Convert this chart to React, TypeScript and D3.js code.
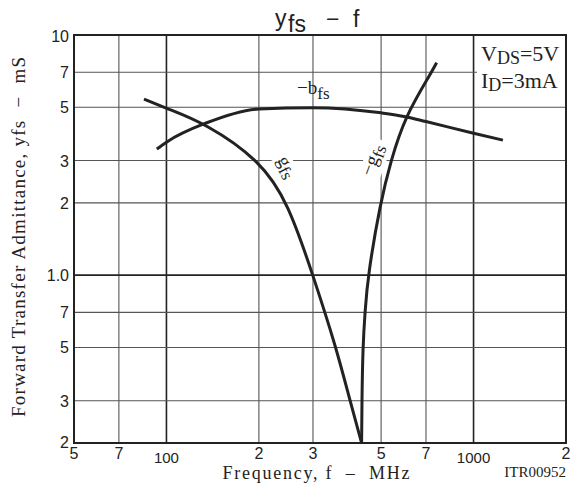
import React from "react";
import * as d3 from "d3";

// frequency in MHz, admittance in mS
const xTicks = [50, 70, 100, 200, 300, 500, 700, 1000, 2000];
const xTickLabels = ["5", "7", "100", "2", "3", "5", "7", "1000", "2"];
const yTicks = [0.2, 0.3, 0.5, 0.7, 1, 2, 3, 5, 7, 10];
const yTickLabels = ["2", "3", "5", "7", "1.0", "2", "3", "5", "7", "10"];

const gfsFreq = [84.5, 100, 134, 202, 249, 300, 357, 396, 432];
const gfsVal = [5.41, 4.95, 4.29, 3.0, 2.0, 1.0, 0.5, 0.3, 0.2];

const bfsFreq = [93, 100, 134, 200, 300, 500, 600, 700, 1000, 1246];
const bfsVal = [3.35, 3.58, 4.29, 4.92, 4.98, 4.74, 4.57, 4.36, 3.9, 3.65];

const ngfsFreq = [432, 433, 436, 443, 453, 497, 538, 598, 730, 758];
const ngfsVal = [0.2, 0.3, 0.5, 0.7, 1.0, 2.0, 3.0, 4.57, 7.0, 7.67];

const W = 580;
const H = 497;
const left = 74, right = 566, top = 35, bottom = 443;

const sans = "'Liberation Sans', Arial, sans-serif";
const serif = "'Liberation Serif', 'Times New Roman', serif";

export default function App() {
  const x = d3.scaleLog().domain([50, 2000]).range([left, right]);
  const y = d3.scaleLog().domain([0.2, 10]).range([bottom, top]);

  const mkLine = (curve: d3.CurveFactory) =>
    d3
      .line<[number, number]>()
      .x((d) => x(d[0]))
      .y((d) => y(d[1]))
      .curve(curve);

  const series: { pts: [number, number][]; curve: d3.CurveFactory }[] = [
    { pts: d3.zip(gfsFreq, gfsVal) as [number, number][], curve: d3.curveBasis },
    { pts: d3.zip(bfsFreq, bfsVal) as [number, number][], curve: d3.curveMonotoneX },
    { pts: d3.zip(ngfsFreq, ngfsVal) as [number, number][], curve: d3.curveBasis },
  ];

  const isDecade = (v: number) => [100, 1000, 1].includes(v);

  return (
    <svg
      width={W}
      height={H}
      style={{ position: "absolute", left: 0, top: 0, background: "#fff" }}
    >
      {/* grid */}
      {xTicks.slice(1, -1).map((t) => (
        <line
          key={"gx" + t}
          x1={x(t)}
          x2={x(t)}
          y1={top}
          y2={bottom}
          stroke={isDecade(t) ? "#222" : "#555"}
          strokeWidth={isDecade(t) ? 1.6 : 1.1}
        />
      ))}
      {yTicks.slice(1, -1).map((t) => (
        <line
          key={"gy" + t}
          x1={left}
          x2={right}
          y1={y(t)}
          y2={y(t)}
          stroke={isDecade(t) ? "#222" : "#555"}
          strokeWidth={isDecade(t) ? 1.6 : 1.1}
        />
      ))}

      {/* condition box */}
      <rect x={477} y={38} width={88} height={57} fill="#fff" />
      <text x={481} y={61} fontFamily={serif} fontSize={22} fill="#222">
        V<tspan fontSize={18} dy={3}>DS</tspan>
        <tspan dy={-3}>=5V</tspan>
      </text>
      <text x={481} y={88} fontFamily={serif} fontSize={22} fill="#222">
        I<tspan fontSize={18} dy={3}>D</tspan>
        <tspan dy={-3}>=3mA</tspan>
      </text>

      {/* frame */}
      <rect
        x={left}
        y={top}
        width={right - left}
        height={bottom - top}
        fill="none"
        stroke="#222"
        strokeWidth={2}
      />

      {/* curves */}
      {series.map((s, i) => (
        <path
          key={"s" + i}
          d={mkLine(s.curve)(s.pts) || ""}
          fill="none"
          stroke="#222"
          strokeWidth={3}
        />
      ))}

      {/* curve labels */}
      <text x={297} y={94} fontFamily={serif} fontSize={19} fill="#222">
        −b<tspan fontSize={17} dy={5}>fs</tspan>
      </text>
      <g transform="translate(277,160) rotate(62)">
        <rect x={-2} y={-14} width={30} height={22} fill="#fff" />
        <text x={0} y={0} fontFamily={serif} fontSize={19} fill="#222">
          g<tspan fontSize={17} dy={4}>fs</tspan>
        </text>
      </g>
      <g transform="translate(372,177) rotate(-70)">
        <rect x={-2} y={-14} width={40} height={22} fill="#fff" />
        <text x={0} y={0} fontFamily={serif} fontSize={19} fill="#222">
          −g<tspan fontSize={17} dy={4}>fs</tspan>
        </text>
      </g>

      {/* x tick labels */}
      {xTicks.map((t, i) => {
        const dec = t === 100 || t === 1000;
        return (
          <text
            key={"xl" + t}
            x={x(t)}
            y={dec ? 463 : 459}
            textAnchor="middle"
            fontFamily={sans}
            fontSize={dec ? 15 : 16}
            fill="#222"
          >
            {xTickLabels[i]}
          </text>
        );
      })}

      {/* y tick labels */}
      {yTicks.map((t, i) => (
        <text
          key={"yl" + t}
          x={69}
          y={y(t) + (i === 0 ? 5 : i === yTicks.length - 1 ? 7 : 6)}
          textAnchor="end"
          fontFamily={sans}
          fontSize={16}
          fill="#222"
        >
          {yTickLabels[i]}
        </text>
      ))}

      {/* title */}
      <text x={275} y={26} fontFamily={sans} fontSize={23} fill="#222">
        y
      </text>
      <text x={288} y={32} fontFamily={sans} fontSize={23} fill="#222">
        fs
      </text>
      <text x={326} y={27} fontFamily={sans} fontSize={23} fill="#222">
        −
      </text>
      <text x={353} y={27} fontFamily={sans} fontSize={23} fill="#222">
        f
      </text>

      {/* axis titles */}
      <text
        transform="translate(25,237) rotate(-90)"
        textAnchor="middle"
        fontFamily={serif}
        fontSize={19}
        textLength={360}
        lengthAdjust="spacing"
        fill="#222"
        style={{ whiteSpace: "pre" }}
      >
        {"Forward Transfer Admittance, yfs  −  mS"}
      </text>
      <text
        x={316}
        y={479}
        textAnchor="middle"
        fontFamily={serif}
        fontSize={18}
        textLength={187}
        lengthAdjust="spacing"
        fill="#222"
        style={{ whiteSpace: "pre" }}
      >
        {"Frequency, f  –  MHz"}
      </text>
      <text
        x={566}
        y={477}
        textAnchor="end"
        fontFamily={serif}
        fontSize={15}
        fill="#222"
      >
        ITR00952
      </text>
    </svg>
  );
}
